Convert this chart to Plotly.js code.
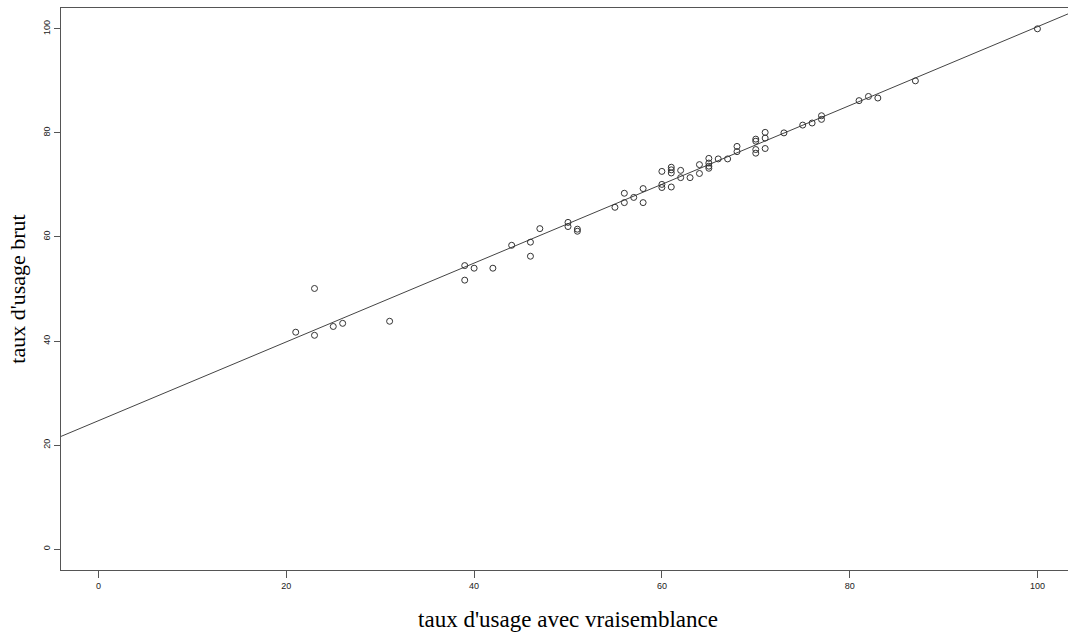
<!DOCTYPE html>
<html>
<head>
<meta charset="utf-8">
<script src="https://cdn.plot.ly/plotly-3.0.1.min.js"></script>
<style>
html,body{margin:0;padding:0;overflow:hidden;background:#fff;}
#chart{width:1080px;height:638px;}
</style>
</head>
<body>
<div id="chart"></div>
<script>
// taux d'usage avec vraisemblance (x) vs taux d'usage brut (y)
const xVals = [21, 23, 23, 25, 26, 31, 39, 39, 40, 42, 44, 46, 46, 47, 50, 50, 51, 51,
  55, 56, 56, 57, 58, 58, 60, 60, 60, 61, 61, 61, 61, 62, 62, 63, 64, 64,
  65, 65, 65, 65, 66, 67, 68, 68, 70, 70, 70, 70, 71, 71, 71, 73, 75, 76,
  77, 77, 81, 82, 83, 87, 100];
const yVals = [41.7, 50.1, 41.1, 42.8, 43.4, 43.8, 54.5, 51.7, 54.0, 54.0, 58.4, 56.3, 59.0, 61.6, 62.8, 62.0, 61.5, 61.1,
  65.7, 68.4, 66.6, 67.6, 69.3, 66.6, 72.6, 70.1, 69.5, 73.4, 72.9, 72.3, 69.6, 72.8, 71.4, 71.4, 73.9, 72.2,
  75.1, 74.2, 73.6, 73.2, 75.0, 75.0, 77.4, 76.4, 78.8, 78.4, 76.8, 76.1, 80.1, 79.0, 77.0, 80.0, 81.5, 81.9,
  83.3, 82.6, 86.2, 87.0, 86.7, 90.0, 100.0];
// regression line
const lineIntercept = 24.7;
const lineSlope = 0.757;
const lineX = [-10, 110];
const lineY = lineX.map(x => lineIntercept + lineSlope * x);
const tickVals = [0, 20, 40, 60, 80, 100];

const axisColor = '#555';
const traces = [
  {
    x: lineX, y: lineY, type: 'scatter', mode: 'lines',
    line: {color: '#444', width: 1}, hoverinfo: 'skip'
  },
  {
    x: xVals, y: yVals, type: 'scatter', mode: 'markers',
    marker: {symbol: 'circle-open', size: 6, color: '#333', line: {width: 1, color: '#333'}}
  }
];

const layout = {
  width: 1080, height: 638,
  margin: {l: 61, r: 5, t: 8, b: 68},
  paper_bgcolor: '#fff', plot_bgcolor: '#fff',
  showlegend: false,
  font: {family: 'Liberation Sans, Arial, sans-serif', size: 9, color: '#222'},
  xaxis: {
    range: [-4, 104], tickvals: tickVals, ticktext: tickVals.map(String),
    showgrid: false, zeroline: false,
    showline: true, mirror: true, linecolor: axisColor, linewidth: 1,
    ticks: 'outside', ticklen: 7, tickcolor: axisColor, tickwidth: 1,
    tickfont: {family: 'Liberation Sans, Arial, sans-serif', size: 9, color: '#222'},
    title: {text: "taux d'usage avec vraisemblance", standoff: 21,
      font: {family: 'Liberation Serif, Times New Roman, serif', size: 23, color: '#000'}},
    automargin: false
  },
  yaxis: {
    range: [-4, 104], tickvals: tickVals, ticktext: tickVals.map(String),
    showgrid: false, zeroline: false,
    showline: true, mirror: true, linecolor: axisColor, linewidth: 1,
    ticks: 'outside', ticklen: 6, tickcolor: axisColor, tickwidth: 1,
    tickangle: -90,
    tickfont: {family: 'Liberation Sans, Arial, sans-serif', size: 9, color: '#222'},
    title: {text: "taux d'usage brut", standoff: 10,
      font: {family: 'Liberation Serif, Times New Roman, serif', size: 22, color: '#000'}},
    automargin: false
  }
};

Plotly.newPlot('chart', traces, layout, {displayModeBar: false, staticPlot: true});
</script>
</body>
</html>
